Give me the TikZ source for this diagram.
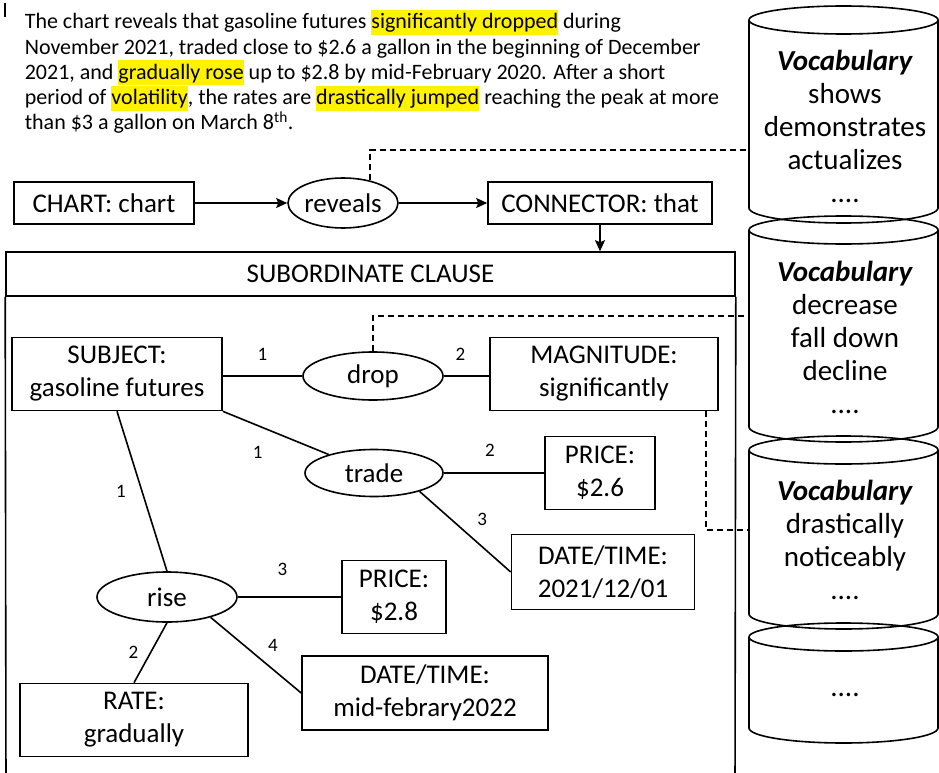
\documentclass[tikz,border=0pt]{standalone}
\usepackage{fontspec}
\setmainfont{Carlito}
\usetikzlibrary{shapes.geometric,arrows.meta}

\newcommand{\hlt}[1]{{\setlength{\fboxsep}{0pt}\colorbox{yellow}{\rule[-6pt]{0pt}{25pt}#1}}}

\begin{document}
\begin{tikzpicture}[x=1pt,y=-1pt,line width=1.6pt,>={Stealth[length=11pt,width=10pt,inset=2pt]},
    box/.style={draw,rectangle,align=center,inner sep=0pt,font=\fontsize{27}{33}\selectfont},
    pred/.style={draw,ellipse,inner sep=0pt,font=\fontsize{27}{33}\selectfont},
    voc/.style={align=center,inner sep=0pt,font=\fontsize{29}{33}\selectfont},
    num/.style={font=\fontsize{19}{23}\selectfont,inner sep=1pt},
    link/.style={line width=1.4pt,dash pattern=on 6pt off 4pt}]
    \useasboundingbox (0,0) rectangle (939,773);

    %sentence
    \draw[line width=1.2pt] (5,3) -- (5,17);
    \node (para) at (24,9)[anchor=north west,align=left,inner sep=0pt,font=\fontsize{22}{25.3}\selectfont]{The chart reveals that gasoline futures \hlt{significantly dropped} during\\
      November 2021, traded close to \$2.6 a gallon in the beginning of December\\
      2021, and \hlt{gradually rose} up to \$2.8 by mid-February 2020. After a short\\
      period of \hlt{volatility}, the rates are \hlt{drastically jumped} reaching the peak at more\\
      than \$3 a gallon on March 8\textsuperscript{th}.};

    %main clause
    \node (chart) at (104,203)[box,minimum width=180pt,minimum height=42pt]{CHART: chart};
    \node (reveals) at (343,203)[pred,minimum width=110pt,minimum height=50pt]{reveals};
    \node (conn) at (600,203)[box,minimum width=224pt,minimum height=42pt]{CONNECTOR: that};
    \draw [->] (chart) to (reveals);
    \draw [->] (reveals) to (conn);

    %subordinate clause frame
    \node (head) at (370.5,274)[box,minimum width=729pt,minimum height=44pt]{SUBORDINATE CLAUSE};
    \coordinate (fl) at (6,790);
    \coordinate (fr) at (735,790);
    \draw (head.south west) to (fl);
    \draw (head.south east) to (fr);
    \draw [->] (conn.south) to (conn.south |- head.north);

    %predicates
    \node (drop) at (373,376)[pred,minimum width=140pt,minimum height=48pt]{drop};
    \node (trade) at (374,473)[pred,minimum width=138pt,minimum height=47pt]{trade};
    \node (rise) at (167,597)[pred,minimum width=140pt,minimum height=50pt]{rise};

    %arguments
    \node (subj) at (117,374)[box,minimum width=210pt,minimum height=73pt]{SUBJECT:\\gasoline futures};
    \node (magn) at (604,374)[box,minimum width=228pt,minimum height=73pt]{MAGNITUDE:\\significantly};
    \node (price1) at (600,473)[box,minimum width=110pt,minimum height=73pt]{PRICE:\\\$2.6};
    \node (date1) at (603,572)[box,minimum width=183pt,minimum height=75pt]{DATE/TIME:\\2021/12/01};
    \node (price2) at (394,597)[box,minimum width=104pt,minimum height=73pt]{PRICE:\\\$2.8};
    \node (date2) at (425,693)[box,minimum width=246pt,minimum height=74pt]{DATE/TIME:\\mid-febrary2022};
    \node (rate) at (134,720)[box,minimum width=228pt,minimum height=73pt]{RATE:\\gradually};

    %drop roles
    \draw (subj.east |- drop) to node[num,xshift=0pt,yshift=22pt]{1} (drop);
    \draw (drop) to node[num,xshift=-6pt,yshift=22pt]{2} (magn.west |- drop);

    %trade roles
    \draw (subj.south east) to node[num,xshift=-18pt,yshift=-19pt]{1} (trade);
    \draw (trade) to node[num,xshift=-4pt,yshift=23pt]{2} (price1);
    \draw (trade.-22) to node[num,xshift=17pt,yshift=12pt]{3} (date1.west);

    %rise roles
    \draw (subj.south) to node[num,xshift=-21pt]{1} (rise.north);
    \draw (rise.south) to node[num,xshift=-17pt]{2} (rate.north);
    \draw (rise) to node[num,xshift=-7pt,yshift=28pt]{3} (price2);
    \draw (rise.-25) to node[num,xshift=17pt,yshift=10pt]{4} (date2.west);

    %vocabulary stores
    \draw (843.5,20) ellipse (94.5 and 14);
    \draw (749,20) -- (749,208) arc (180:0:94.5 and 15) -- (938,20);
    \draw (843.5,230) ellipse (94.5 and 14);
    \draw (749,230) -- (749,427) arc (180:0:94.5 and 15) -- (938,230);
    \draw (843.5,450) ellipse (94.5 and 14);
    \draw (749,450) -- (749,614) arc (180:0:94.5 and 15) -- (938,450);
    \draw (843.5,637) ellipse (94.5 and 14);
    \draw (749,637) -- (749,728) arc (180:0:94.5 and 15) -- (938,637);

    \node (voc1) at (845,126)[voc]{\textbf{\textit{Vocabulary}}\\shows\\demonstrates\\actualizes\\....};
    \node (voc2) at (845,337)[voc]{\textbf{\textit{Vocabulary}}\\decrease\\fall down\\decline\\....};
    \node (voc3) at (845,540)[voc]{\textbf{\textit{Vocabulary}}\\drastically\\noticeably\\....};
    \node (voc4) at (845,695)[voc]{....};

    %links to vocabulary
    \coordinate (v1in) at (749,150);
    \coordinate (v2in) at (749,316);
    \coordinate (v3in) at (749,530);
    \draw [link] (reveals.40) |- (v1in);
    \draw [link] (drop.north) |- (v2in);
    \draw [link] ([xshift=-13pt]magn.south east) |- (v3in);
  \end{tikzpicture}
\end{document}
